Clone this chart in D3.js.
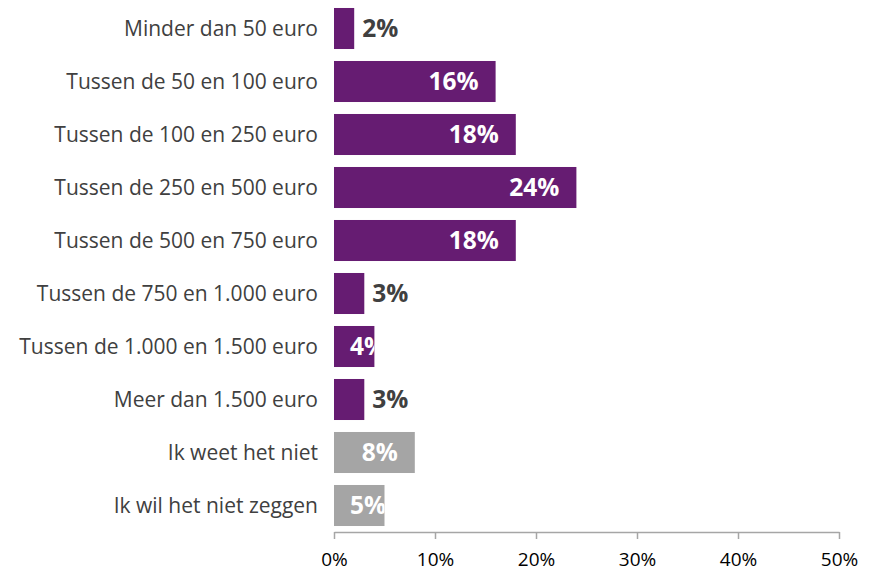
<!DOCTYPE html>
<html>
<head>
<meta charset="utf-8">
<script src="https://cdn.jsdelivr.net/npm/d3@7"></script>
<style>
    body { margin: 0; background: #ffffff; }
    svg { display: block; font-family: "Open Sans", Lato, sans-serif; }
</style>
</head>
<body>
<div id="chart"></div>
<script>
// Chart values
const categories = [
    "Minder dan 50 euro",
    "Tussen de 50 en 100 euro",
    "Tussen de 100 en 250 euro",
    "Tussen de 250 en 500 euro",
    "Tussen de 500 en 750 euro",
    "Tussen de 750 en 1.000 euro",
    "Tussen de 1.000 en 1.500 euro",
    "Meer dan 1.500 euro",
    "Ik weet het niet",
    "Ik wil het niet zeggen"
];
const values = [2, 16, 18, 24, 18, 3, 4, 3, 8, 5];
const isAnswer = [true, true, true, true, true, true, true, true, false, false];
const xTicks = [0, 10, 20, 30, 40, 50];

const chartWidth = 869, chartHeight = 572;
const plotLeft = 334, plotRight = 839, plotTop = 2, plotBottom = 532;

const svg = d3.select("#chart").append("svg")
    .attr("width", chartWidth)
    .attr("height", chartHeight);

const xScale = d3.scaleLinear().domain([0, 50]).range([plotLeft, plotRight]);
const yScale = d3.scaleBand().domain(categories).range([plotTop, plotBottom]).paddingInner(0.226).paddingOuter(0.113);

const data = categories.map((c, i) => ({ cat: c, value: values[i], answer: isAnswer[i], i }));

// clip paths so inside labels are cut at the bar end
const defs = svg.append("defs");
data.forEach(d => {
    defs.append("clipPath").attr("id", "clip" + d.i)
        .append("rect")
        .attr("x", xScale(0))
        .attr("y", yScale(d.cat))
        .attr("width", xScale(d.value) - xScale(0))
        .attr("height", yScale.bandwidth());
});

svg.selectAll("rect.bar")
    .data(data)
    .enter()
    .append("rect")
    .attr("class", "bar")
    .attr("x", xScale(0))
    .attr("y", d => yScale(d.cat))
    .attr("width", d => xScale(d.value) - xScale(0))
    .attr("height", yScale.bandwidth())
    .attr("fill", d => d.answer ? "#661c72" : "#a5a5a5");

// category labels
svg.selectAll("text.cat")
    .data(data)
    .enter()
    .append("text")
    .attr("class", "cat")
    .attr("x", plotLeft - 16)
    .attr("y", d => yScale(d.cat) + yScale.bandwidth() / 2)
    .attr("dy", "0.35em")
    .attr("text-anchor", "end")
    .attr("font-size", "21px")
    .attr("fill", "#404040")
    .text(d => d.cat);

// value labels: small bars get the label outside, the rest inside in white
data.forEach(d => {
    const end = xScale(d.value);
    const cy = yScale(d.cat) + yScale.bandwidth() / 2;
    const label = svg.append("text")
        .attr("y", cy)
        .attr("dy", "0.36em")
        .attr("font-size", "24.5px")
        .attr("font-weight", "bold")
        .text(d.value + "%");
    if (d.value < 4) {
        label.attr("x", end + 8).attr("fill", "#404040");
    } else {
        const w = label.node().getComputedTextLength();
        const x = Math.max(end - 17 - w, xScale(0) + 16);
        label.attr("x", x).attr("fill", "#ffffff").attr("clip-path", `url(#clip${d.i})`);
    }
});

// x axis
const axis = svg.append("g")
    .attr("transform", `translate(0, ${plotBottom})`)
    .call(d3.axisBottom(xScale).tickValues(xTicks).tickFormat(d => d + "%").tickSizeOuter(0).tickSizeInner(7).tickPadding(14));
axis.select(".domain").attr("stroke", "#a6a6a6").attr("stroke-width", 1.5);
axis.selectAll(".tick line").attr("stroke", "#a6a6a6").attr("stroke-width", 1.5);
axis.selectAll(".tick text")
    .attr("font-family", "'Open Sans', Lato, sans-serif")
    .attr("font-size", "19px")
    .attr("fill", "#000000");
</script>
</body>
</html>
